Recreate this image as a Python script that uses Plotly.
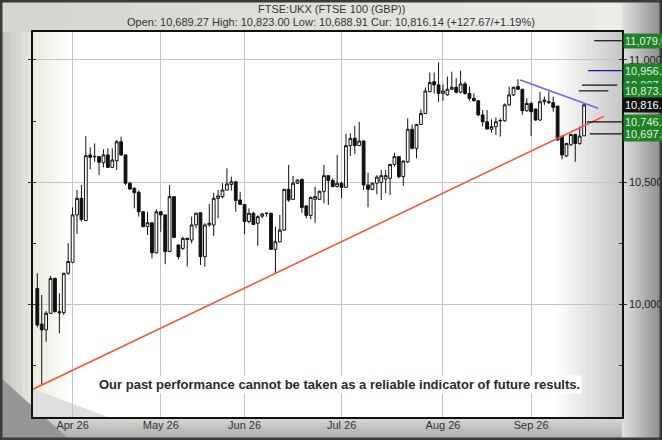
import numpy as np
import pandas as pd
import plotly.graph_objects as go

# ---------------- data ----------------
opens = [10064, 9918, 9894, 9962, 10105, 9968, 9965, 10126, 10171, 10365,
         10433, 10342, 10611, 10603, 10604, 10579, 10611, 10560, 10587, 10665,
         10611, 10495, 10474, 10458, 10378, 10317, 10333, 10210, 10378, 10365,
         10215, 10440, 10242, 10228, 10269, 10262, 10324, 10374, 10194, 10324,
         10324, 10433, 10440, 10467, 10490, 10501, 10426, 10408, 10338, 10372,
         10331, 10360, 10371, 10372, 10224, 10255, 10303, 10470, 10429, 10495,
         10511, 10402, 10363, 10429, 10429, 10462, 10526, 10506, 10481, 10495,
         10478, 10649, 10679, 10649, 10668, 10488, 10470, 10495, 10498, 10512,
         10515, 10572, 10604, 10522, 10583, 10716, 10638, 10736, 10781, 10870,
         10911, 10898, 10863, 10857, 10880, 10888, 10868, 10902, 10863, 10843,
         10833, 10775, 10747, 10716, 10727, 10750, 10751, 10816, 10857, 10891,
         10880, 10792, 10822, 10799, 10754, 10829, 10825, 10825, 10811, 10688,
         10607, 10652, 10695, 10658, 10689.27]
highs = [10126, 10037, 9971, 10115, 10108, 10044, 10128, 10249, 10396, 10467,
         10488, 10688, 10642, 10658, 10606, 10634, 10638, 10638, 10672, 10686,
         10612, 10501, 10478, 10465, 10380, 10378, 10335, 10388, 10380, 10367,
         10488, 10442, 10244, 10276, 10272, 10358, 10374, 10376, 10331, 10410,
         10456, 10467, 10495, 10556, 10522, 10503, 10460, 10410, 10392, 10378,
         10364, 10374, 10374, 10374, 10317, 10365, 10472, 10570, 10525, 10511,
         10513, 10404, 10440, 10481, 10464, 10570, 10528, 10515, 10611, 10501,
         10697, 10699, 10730, 10747, 10670, 10538, 10497, 10528, 10549, 10549,
         10574, 10620, 10606, 10588, 10761, 10736, 10738, 10798, 10887, 10949,
         10949, 10990, 10900, 10932, 10952, 10925, 10956, 10911, 10891, 10863,
         10835, 10795, 10795, 10757, 10764, 10761, 10822, 10891, 10891, 10921,
         10882, 10843, 10829, 10801, 10870, 10850, 10870, 10850, 10813, 10690,
         10660, 10697, 10697, 10727, 10823.00]
lows = [9905, 9668, 9846, 9959, 9965, 9880, 9955, 10119, 10167, 10287,
        10337, 10340, 10552, 10583, 10529, 10560, 10558, 10558, 10549, 10607,
        10488, 10468, 10392, 10358, 10315, 10283, 10187, 10207, 10296, 10163,
        10213, 10271, 10183, 10221, 10153, 10249, 10310, 10160, 10153, 10317,
        10279, 10351, 10433, 10465, 10465, 10378, 10408, 10287, 10331, 10324,
        10238, 10351, 10358, 10224, 10126, 10253, 10300, 10419, 10426, 10492,
        10374, 10351, 10347, 10333, 10426, 10413, 10406, 10481, 10478, 10433,
        10478, 10607, 10615, 10647, 10467, 10396, 10467, 10450, 10426, 10454,
        10447, 10563, 10515, 10484, 10577, 10634, 10597, 10734, 10779, 10868,
        10863, 10829, 10833, 10854, 10877, 10863, 10863, 10857, 10833, 10829,
        10771, 10727, 10716, 10702, 10693, 10686, 10747, 10812, 10852, 10877,
        10775, 10788, 10689, 10751, 10751, 10816, 10820, 10788, 10670, 10593,
        10601, 10648, 10583, 10652, 10688.91]
closes = [9914, 9894, 9962, 10105, 9969, 9964, 10126, 10174, 10365, 10433,
          10347, 10608, 10601, 10605, 10581, 10611, 10560, 10590, 10665, 10611,
          10495, 10471, 10456, 10378, 10317, 10333, 10210, 10378, 10365, 10215,
          10440, 10273, 10194, 10269, 10265, 10324, 10372, 10194, 10324, 10331,
          10433, 10443, 10467, 10492, 10501, 10424, 10408, 10338, 10372, 10326,
          10358, 10369, 10372, 10224, 10255, 10303, 10470, 10426, 10495, 10508,
          10396, 10363, 10437, 10440, 10462, 10526, 10506, 10481, 10495, 10478,
          10649, 10679, 10649, 10668, 10488, 10470, 10495, 10520, 10526, 10526,
          10572, 10604, 10522, 10586, 10716, 10638, 10736, 10781, 10873, 10908,
          10898, 10863, 10873, 10880, 10888, 10868, 10902, 10863, 10843, 10833,
          10775, 10747, 10717, 10727, 10747, 10752, 10816, 10857, 10888, 10880,
          10792, 10822, 10788, 10754, 10829, 10836, 10829, 10806, 10672, 10611,
          10658, 10695, 10658, 10688, 10816.14]

uk_holidays = ["2026-04-03", "2026-04-06", "2026-05-04", "2026-05-25", "2026-08-31"]
first_day, last_day = "2026-03-20", "2026-09-17"

target_values = [11079.0, 10956.5, 10897.0, 10873.5, 10746.5, 10697.5]
target_colors = ["#111111", "#1a1a9a", "#111111", "#111111", "#111111", "#111111"]
current_price = 10816.14
current_change = 127.67
current_pct = 1.19

# trend-line anchor candles (index into the series)
support_idx = (1, 54)      # lows joined by the red line
resist_idx = (109, 124)    # highs joined by the blue line

# ---------------- geometry helpers ----------------
W, H = 662, 440
PL, PR, PT, PB = 33, 622, 32, 417
pw, ph = PR - PL, PB - PT


def px(xp):
    return (xp - PL) / pw


def py(yp):
    return (PB - yp) / ph


dates = pd.bdate_range(first_day, last_day)
dates = dates[~dates.isin(pd.to_datetime(uk_holidays))]
xi = np.arange(len(dates))
months = dates.to_period("M")
tick_idx = [i for i in range(1, len(dates)) if months[i] != months[i - 1]]
tick_txt = [dates[i].strftime("%b %y") for i in tick_idx]

x_range = [-0.98, 132.6]
y_range = [9537, 11114.7]

fig = go.Figure()

fig.add_trace(go.Candlestick(
    x=xi, open=opens, high=highs, low=lows, close=closes,
    increasing=dict(line=dict(color="#111111", width=1), fillcolor="#ffffff"),
    decreasing=dict(line=dict(color="#111111", width=1), fillcolor="#111111"),
    whiskerwidth=0, showlegend=False, hoverinfo="skip"))

# support (red) line through two lows, extended
i0, i1 = support_idx
s_slope = (lows[i1] - lows[i0]) / (i1 - i0)
sx = np.array([x_range[0], 128.5])
fig.add_trace(go.Scatter(x=sx, y=lows[i0] + s_slope * (sx - i0), mode="lines",
                         line=dict(color="#f05a3c", width=1.6), showlegend=False,
                         hoverinfo="skip"))

# resistance (blue) line through two highs, extended
j0, j1 = resist_idx
r_slope = (highs[j1] - highs[j0]) / (j1 - j0)
rx = np.array([j0 + 0.5, 127.2])
fig.add_trace(go.Scatter(x=rx, y=highs[j0] + r_slope * (rx - j0), mode="lines",
                         line=dict(color="#6a6ae0", width=1.6), showlegend=False,
                         hoverinfo="skip"))

# target level segments
seg_start = [126.3, 124.9, 123.5, 122.8, 124.6, 125.3]
seg_end = [x_range[1], x_range[1], 131.5, 129.5, x_range[1], x_range[1]]
for v, c, a, b in zip(target_values, target_colors, seg_start, seg_end):
    fig.add_trace(go.Scatter(x=[a, b], y=[v, v], mode="lines",
                             line=dict(color=c, width=1.2), showlegend=False,
                             hoverinfo="skip"))

shapes = []


def rect(x0, y0, x1, y1, color, layer="below", opacity=1.0):
    shapes.append(dict(type="rect", xref="paper", yref="paper",
                       x0=px(x0), x1=px(x1), y0=py(y1), y1=py(y0),
                       line=dict(width=0), fillcolor=color, layer=layer,
                       opacity=opacity))


def hgrad(x0, x1, y0, y1, c0, c1, n=12, layer="below"):
    for k in range(n):
        t = k / (n - 1)
        col = tuple(int(round(c0[m] + (c1[m] - c0[m]) * t)) for m in range(3))
        xa = x0 + (x1 - x0) * k / n
        xb = x0 + (x1 - x0) * (k + 1) / n + 0.5
        rect(xa, y0, xb, y1, "rgb(%d,%d,%d)" % col, layer)


def vgrad(x0, x1, y0, y1, c0, c1, n=8, layer="below"):
    for k in range(n):
        t = k / (n - 1)
        col = tuple(int(round(c0[m] + (c1[m] - c0[m]) * t)) for m in range(3))
        ya = y0 + (y1 - y0) * k / n
        yb = y0 + (y1 - y0) * (k + 1) / n + 0.5
        rect(x0, ya, x1, yb, "rgb(%d,%d,%d)" % col, layer)


# frame: top, left, right, bottom
hgrad(0, W, 0, PT, (214, 214, 208), (236, 236, 232), n=10)
hgrad(0, PL, PT, PB, (196, 196, 188), (230, 230, 222), n=6)
hgrad(PR, W, 0, H, (222, 222, 222), (140, 140, 140), n=14)
vgrad(0, PR, PB, H, (214, 214, 212), (170, 170, 170), n=8)
shapes.append(dict(type="path", xref="paper", yref="paper",
                   path="M %f,%f L %f,%f L %f,%f Z" % (px(0), py(H), px(0), py(PB - 40),
                                                      px(70), py(H)),
                   fillcolor="rgb(150,150,150)", line=dict(width=0), layer="below"))
# plot interior edge shading
hgrad(PL, PL + 40, PT, PB, (236, 236, 224), (255, 255, 255), n=10)
hgrad(PR - 70, PR, PT, PB, (255, 255, 255), (200, 200, 200), n=14)
shapes.append(dict(type="path", xref="paper", yref="paper",
                   path="M %f,%f L %f,%f L %f,%f Z" % (px(PL), py(PB), px(PL), py(PB - 28),
                                                      px(PL + 75), py(PB)),
                   fillcolor="rgb(222,222,222)", line=dict(width=0), layer="below"))
# outer dark border
shapes.append(dict(type="rect", xref="paper", yref="paper",
                   x0=px(1), x1=px(W - 1), y0=py(H - 1), y1=py(1),
                   line=dict(color="#3a3a3a", width=3), fillcolor="rgba(0,0,0,0)",
                   layer="above"))

annotations = []
font = "Liberation Sans, Arial, sans-serif"
annotations.append(dict(xref="paper", yref="paper", x=px(331), y=py(9),
                        text="FTSE:UKX (FTSE 100 (GBP))", showarrow=False,
                        font=dict(family=font, size=11, color="#333333"),
                        xanchor="center", yanchor="middle"))
annotations.append(dict(xref="paper", yref="paper", x=px(331), y=py(22),
                        text=("Open: {:,.2f} High: {:,.2f} Low: {:,.2f} Cur: {:,.2f} "
                              "(+{:.2f}/+{:.2f}%)").format(opens[-1], highs[-1], lows[-1],
                                                         current_price, current_change,
                                                         current_pct),
                        showarrow=False, font=dict(family=font, size=11, color="#333333"),
                        xanchor="center", yanchor="middle"))
annotations.append(dict(xref="paper", yref="paper", x=px(339), y=py(384),
                        text="<b>Our past performance cannot be taken as a reliable indicator of future results.</b>",
                        showarrow=False, bgcolor="#ffffff", borderpad=1,
                        font=dict(family="Liberation Sans Narrow, Arial Narrow, Liberation Sans, sans-serif",
                                  size=13, color="#2a2a2a"),
                        xanchor="center", yanchor="middle"))

label_order = [0, 1, 2, 3, 4, 5]
for k in label_order:
    v = target_values[k]
    annotations.append(dict(xref="paper", yref="y", x=px(623), y=v,
                            text="{:,.2f}".format(v), showarrow=False,
                            bgcolor="#23802a", borderpad=1, width=48, align="left",
                            font=dict(family=font, size=11, color="#dff5df"),
                            xanchor="left", yanchor="middle"))
annotations.append(dict(xref="paper", yref="y", x=px(623), y=current_price,
                        text="{:,.2f}".format(current_price), showarrow=False,
                        bgcolor="#101010", borderpad=1, width=48, align="left",
                        font=dict(family=font, size=11, color="#ffffff"),
                        xanchor="left", yanchor="middle"))

fig.update_layout(
    width=W, height=H,
    margin=dict(l=PL, r=W - PR, t=PT, b=H - PB, pad=0),
    paper_bgcolor="#dcdcd8", plot_bgcolor="#ffffff",
    shapes=shapes, annotations=annotations,
    showlegend=False, boxgap=0.1,
    xaxis=dict(range=x_range, tickvals=tick_idx, ticktext=tick_txt,
               showgrid=True, gridcolor="#c4c4c4", gridwidth=1,
               showline=True, linecolor="#111111", linewidth=1.5, mirror=True,
               ticks="", ticklabelstandoff=-3,
               tickfont=dict(family=font, size=11, color="#333333"),
               rangeslider=dict(visible=False), zeroline=False, fixedrange=True,
               automargin=False),
    yaxis=dict(range=y_range, side="right", tick0=0, dtick=500, tickformat=",.1f",
               showgrid=True, gridcolor="#c4c4c4", gridwidth=1,
               showline=True, linecolor="#111111", linewidth=1.5, mirror="ticks",
               ticks="outside", ticklen=3, tickcolor="#333333",
               minor=dict(dtick=250, tick0=0, ticks="inside", ticklen=3,
                          tickcolor="#333333", showgrid=False),
               tickfont=dict(family=font, size=11, color="#222222"),
               zeroline=False, fixedrange=True, automargin=False),
)

fig.write_html("out.html", config={"displayModeBar": False},
               post_script="document.body.style.margin='0px';document.body.style.overflow='hidden';")
